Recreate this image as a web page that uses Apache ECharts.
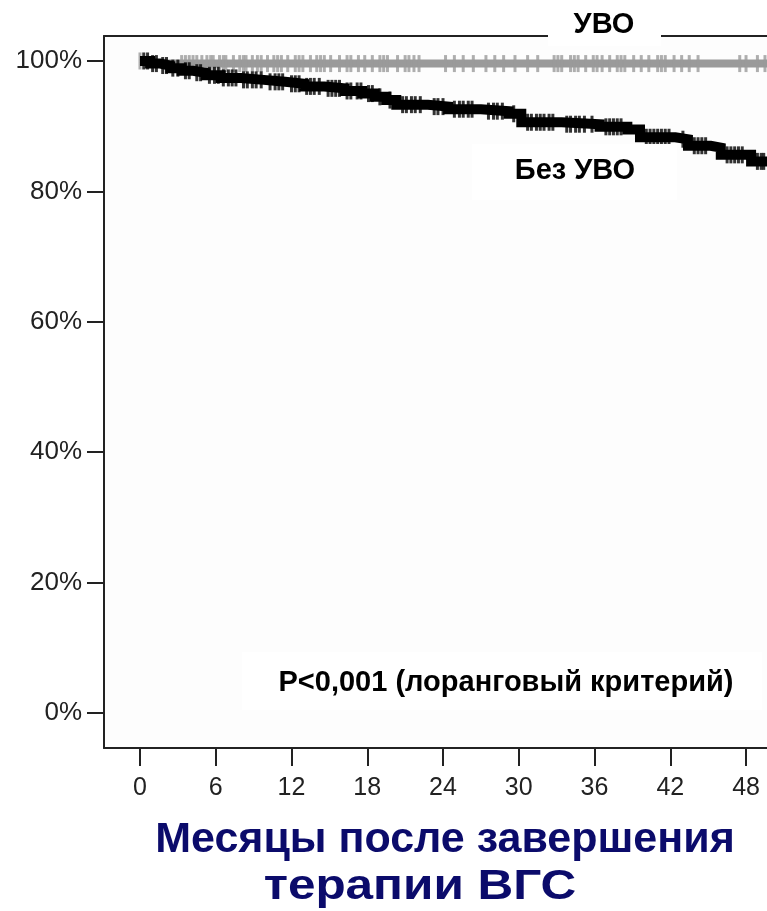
<!DOCTYPE html>
<html>
<head>
<meta charset="utf-8">
<script src="https://cdn.jsdelivr.net/npm/echarts@6/dist/echarts.min.js"></script>
<style>
  html, body { margin: 0; padding: 0; background: #ffffff; }
  #km_chart { width: 767px; height: 911px; }
</style>
</head>
<body>
<div id="km_chart"></div>
<script>
// Chart data
// ------------------------------

// Axis ticks
var monthTicks = [0, 6, 12, 18, 24, 30, 36, 42, 48];
var percentTicks = [0, 20, 40, 60, 80, 100];

// SVR group (grey curve)
var svrMonths = [0, 0.6, 49.7];
var svrSurvival = [100, 99.6, 99.6];
var svrCensored = [
    0, 3.3, 3.6, 3.9, 4.2, 4.5, 4.9, 5.3, 5.6, 5.8, 6.3, 6.6, 6.8, 7.4, 7.9,
    8.2, 8.4, 8.9, 9.3, 9.6, 10.1, 10.6, 10.9, 11.2, 11.7, 12.3, 12.6, 12.9,
    13.5, 14.0, 14.3, 14.6, 15.1, 15.8, 16.4, 16.7, 17.3, 17.8, 18.4, 19.0,
    19.3, 19.6, 20.4, 21.0, 21.3, 21.7, 22.1, 24.2, 24.9, 25.6, 26.4, 27.4,
    28.1, 28.8, 29.7, 30.7, 31.5, 32.8, 33.1, 33.4, 34.1, 34.4, 34.7, 35.3,
    35.9, 36.2, 36.6, 37.2, 37.8, 38.1, 38.4, 39.1, 39.7, 40.3, 41.0, 41.3,
    41.6, 42.3, 42.9, 43.5, 44.2, 47.5, 48.0, 48.9, 49.5
];

// No SVR group (black curve)
var noSvrMonths = [
    0, 0.8, 1.6, 2.4, 3.3, 4.2, 5.2, 6.4, 8.0, 9.8, 11.5, 13.0, 14.6,
    16.2, 17.6, 18.6, 19.5, 20.3, 22.8, 24.4, 27.0, 29.2, 30.2, 33.4,
    36.4, 38.6, 39.6, 42.4, 43.4, 45.2, 46.0, 48.4, 49.7
];
var noSvrSurvival = [
    100, 99.6, 99.3, 98.9, 98.5, 98.2, 97.8, 97.4, 97.1, 96.8, 96.5, 96.1,
    95.8, 95.4, 95.0, 94.5, 94.0, 93.3, 93.0, 92.6, 92.3, 91.9, 90.6, 90.3,
    89.9, 89.5, 88.3, 88.0, 87.0, 86.7, 85.6, 84.6, 84.2
];
var noSvrCensored = [
    0.3, 0.6, 1.0, 1.3, 1.8, 2.1, 2.6, 3.0, 3.6, 3.9, 4.5, 4.8, 5.5, 5.9,
    6.2, 6.6, 7.0, 7.3, 7.6, 8.2, 8.5, 8.9, 9.2, 9.6, 10.3, 10.7, 11.0, 11.3,
    12.0, 12.3, 12.6, 13.2, 13.5, 13.8, 14.2, 14.9, 15.2, 15.5, 15.8, 16.4,
    16.7, 17.2, 17.5, 18.1, 18.4, 19.0, 19.8, 20.8, 21.1, 21.5, 21.8, 22.2,
    23.3, 23.6, 24.0, 24.9, 25.3, 25.6, 26.0, 26.3, 27.6, 28.0, 28.3, 28.7,
    29.6, 30.7, 31.0, 31.4, 31.7, 32.0, 32.4, 32.7, 33.8, 34.1, 34.5, 34.8,
    35.2, 35.8, 36.9, 37.2, 37.5, 37.8, 38.1, 40.1, 40.4, 40.7, 41.0, 41.3,
    41.6, 41.9, 43.0, 43.9, 44.2, 44.5, 44.8, 46.5, 46.8, 47.1, 47.4, 47.7,
    48.9, 49.2, 49.4
];


// Setup module
// ------------------------------

var KaplanMeierChart = function() {

    // Survival value of a step curve at time t
    var survivalAt = function(times, values, t) {
        var s = values[0];
        for (var i = 0; i < times.length; i++) {
            if (times[i] <= t) s = values[i];
        }
        return s;
    };

    var stepData = function(times, values) {
        return times.map(function(t, i) { return [t, values[i]]; });
    };

    var censorData = function(censored, times, values) {
        return censored.map(function(t) { return [t, survivalAt(times, values, t)]; });
    };

    var _init = function() {
        var chart_element = document.getElementById('km_chart');
        if (!chart_element) return;

        var chart = echarts.init(chart_element, null, { renderer: 'canvas' });

        var labelFont = '"Liberation Sans", Arial, sans-serif';
        var boldFont = function(size) {
            return 'bold ' + size + 'px "Liberation Sans", Arial, sans-serif';
        };

        chart.setOption({
            backgroundColor: '#ffffff',
            animation: false,
            textStyle: { fontFamily: labelFont },

            grid: {
                left: 104,
                right: 0,
                top: 36,
                bottom: 163,
                show: true,
                backgroundColor: '#fdfdfd',
                borderWidth: 0
            },

            xAxis: [{
                type: 'value',
                min: -2.85,
                max: 49.66,
                axisLine: { show: true, onZero: false, lineStyle: { color: '#222', width: 2 } },
                axisTick: {
                    show: true,
                    customValues: monthTicks,
                    length: 18,
                    lineStyle: { color: '#222', width: 2 }
                },
                axisLabel: {
                    customValues: monthTicks,
                    margin: 28,
                    color: '#222',
                    fontSize: 25,
                    fontFamily: labelFont
                },
                splitLine: { show: false }
            }, {
                type: 'value',
                position: 'top',
                min: -2.85,
                max: 49.66,
                axisLine: { show: true, onZero: false, lineStyle: { color: '#222', width: 2 } },
                axisTick: { show: false },
                axisLabel: { show: false },
                splitLine: { show: false }
            }],

            yAxis: {
                type: 'value',
                min: -5.37,
                max: 103.83,
                axisLine: { show: true, onZero: false, lineStyle: { color: '#222', width: 2 } },
                axisTick: {
                    show: true,
                    customValues: percentTicks,
                    length: 17,
                    lineStyle: { color: '#222', width: 2 }
                },
                axisLabel: {
                    customValues: percentTicks,
                    formatter: '{value}%',
                    margin: 22,
                    color: '#222',
                    fontSize: 26,
                    fontFamily: labelFont
                },
                splitLine: { show: false }
            },

            series: [
                {
                    name: 'УВО',
                    type: 'line',
                    step: 'end',
                    symbol: 'none',
                    z: 3,
                    lineStyle: { color: '#9a9a9a', width: 8 },
                    data: stepData(svrMonths, svrSurvival)
                },
                {
                    name: 'УВО цензурированные',
                    type: 'scatter',
                    symbol: 'rect',
                    symbolSize: [3, 17],
                    z: 3,
                    itemStyle: { color: '#9a9a9a' },
                    data: censorData(svrCensored, svrMonths, svrSurvival)
                },
                {
                    name: 'Без УВО',
                    type: 'line',
                    step: 'end',
                    symbol: 'none',
                    z: 4,
                    lineStyle: { color: '#000000', width: 10, cap: 'butt', join: 'miter' },
                    data: stepData(noSvrMonths, noSvrSurvival)
                },
                {
                    name: 'Без УВО цензурированные',
                    type: 'scatter',
                    symbol: 'rect',
                    symbolSize: [3, 17],
                    z: 4,
                    itemStyle: { color: '#000000' },
                    data: censorData(noSvrCensored, noSvrMonths, noSvrSurvival)
                }
            ],

            graphic: [
                // Group label on the top border
                {
                    type: 'rect', z: 100,
                    shape: { x: 548, y: 0, width: 113, height: 46 },
                    style: { fill: '#ffffff' }
                },
                {
                    type: 'text', z: 101, x: 604, y: 25,
                    style: {
                        text: 'УВО', align: 'center', verticalAlign: 'middle',
                        font: boldFont(29), fill: '#000'
                    }
                },
                {
                    type: 'rect', z: 100,
                    shape: { x: 472, y: 144, width: 205, height: 56 },
                    style: { fill: '#ffffff' }
                },
                {
                    type: 'text', z: 101, x: 575, y: 171,
                    style: {
                        text: 'Без УВО', align: 'center', verticalAlign: 'middle',
                        font: boldFont(29), fill: '#000'
                    }
                },
                {
                    type: 'rect', z: 100,
                    shape: { x: 242, y: 652, width: 520, height: 58 },
                    style: { fill: '#ffffff' }
                },
                {
                    type: 'text', z: 101, x: 506, y: 683,
                    style: {
                        text: 'P<0,001 (лоранговый критерий)', align: 'center', verticalAlign: 'middle',
                        font: boldFont(29), fill: '#000'
                    }
                },
                // Axis title
                {
                    type: 'text', z: 101, x: 445, y: 840,
                    style: {
                        text: 'Месяцы после завершения', align: 'center', verticalAlign: 'middle',
                        font: boldFont(43), fill: '#0b0b6b'
                    }
                },
                {
                    type: 'text', z: 101, x: 420, y: 887, scaleX: 1.15,
                    style: {
                        text: 'терапии ВГС', align: 'center', verticalAlign: 'middle',
                        font: boldFont(43), fill: '#0b0b6b'
                    }
                }
            ]
        });
    };

    return {
        init: function() {
            _init();
        }
    };
}();

document.addEventListener('DOMContentLoaded', function() {
    KaplanMeierChart.init();
});
</script>
</body>
</html>
